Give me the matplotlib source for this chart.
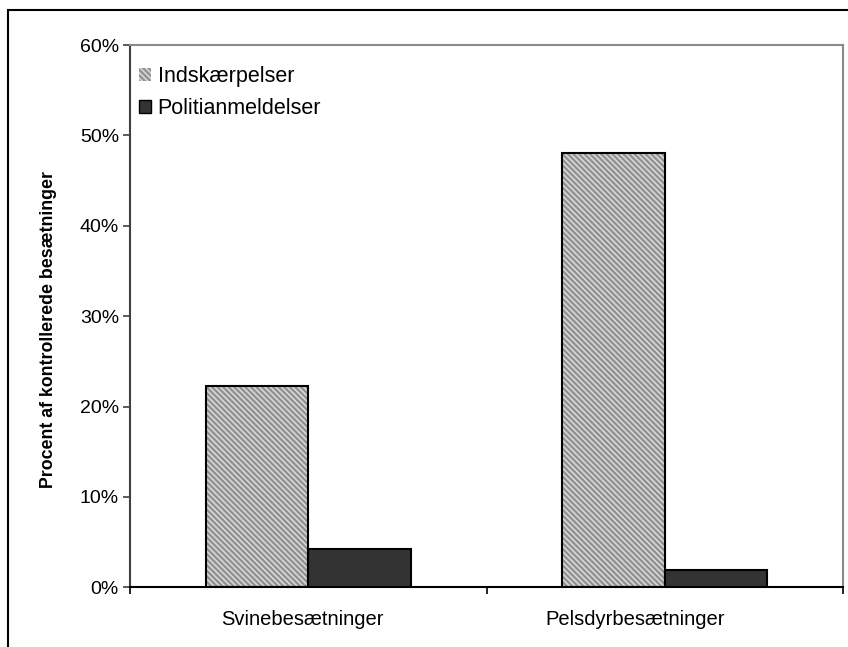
import numpy as np
import matplotlib
matplotlib.use("Agg")
import matplotlib.pyplot as plt
import matplotlib.transforms as mtransforms
from matplotlib.patches import Rectangle, Patch
from matplotlib.ticker import FuncFormatter

# data
categories = ["Svinebesætninger", "Pelsdyrbesætninger"]
indskaerpelser = [22.3, 48.0]
politianmeldelser = [4.2, 1.95]
series_names = ["Indskærpelser", "Politianmeldelser"]

plt.rcParams['font.family'] = ['Liberation Sans', 'DejaVu Sans']
plt.rcParams['hatch.linewidth'] = 1.1

fig = plt.figure(figsize=(8.48, 6.47), dpi=100)
ax = fig.add_axes([130/848, 1-587.3/647, (843-130)/848, (587.3-45)/647])

x = np.arange(len(categories))
w = 0.288
hatch_face = '#929292'
hatch_line = '#dcdcdc'
hatch = '\\' * 6
dark = '#333333'

# hatched bars: fill+hatch first, then a black outline
ax.bar(x - w/2, indskaerpelser, w, color=hatch_face, edgecolor=hatch_line,
       hatch=hatch, linewidth=0, zorder=2)
ax.bar(x - w/2, indskaerpelser, w, fill=False, edgecolor='black', linewidth=1.5, zorder=3)
ax.bar(x + w/2, politianmeldelser, w, color=dark, edgecolor='black', linewidth=1.5, zorder=3)

ax.set_xlim(-0.5, len(categories) - 0.5)
ax.set_ylim(0, 60)
ax.set_yticks(np.arange(0, 61, 10))
ax.yaxis.set_major_formatter(FuncFormatter(lambda v, p: f"{v:.0f}%"))
ax.set_xticks(x)
ax.set_xticklabels(categories)
ax.set_xticks(np.arange(-0.5, len(categories), 1.0), minor=True)
ax.tick_params(axis='x', which='major', length=0, pad=16, labelsize=14.5)
ax.tick_params(axis='x', which='minor', length=5, width=1.2, color='black', direction='out')
ax.tick_params(axis='y', length=5, width=1.2, color='#404040', labelsize=14, pad=3)

# category labels sit a little left of the group centres in the original
for lab, dx in zip(ax.get_xticklabels(), [-6, -30]):
    lab.set_transform(lab.get_transform() + mtransforms.ScaledTranslation(dx/100, 0, fig.dpi_scale_trans))

for s in ['top', 'right']:
    ax.spines[s].set_color('#8a8a8a')
    ax.spines[s].set_linewidth(1.5)
ax.spines['left'].set_color('#404040')
ax.spines['left'].set_linewidth(1.5)
ax.spines['bottom'].set_color('black')
ax.spines['bottom'].set_linewidth(1.5)

ax.set_ylabel("Procent af kontrollerede besætninger", fontsize=12.8, fontweight='bold')
ax.yaxis.set_label_coords(-0.102, 0.476)

handles = [Patch(facecolor=hatch_face, edgecolor=hatch_line, hatch=hatch, linewidth=0),
           Patch(facecolor=dark, edgecolor='black', linewidth=1)]
ax.legend(handles, series_names, loc='upper left', bbox_to_anchor=(-0.014, 0.997), frameon=False,
          fontsize=15.5, handlelength=0.55, handleheight=0.55, handletextpad=0.3, labelspacing=0.5)

# outer chart border (cut off on the right and bottom in the reference)
fig.patches.append(Rectangle((8/848, -0.1), 1.2, 1 - 10/647 + 0.1, transform=fig.transFigure,
                             fill=False, edgecolor='black', linewidth=1.5, clip_on=False))

fig.savefig("out.png", dpi=100)
